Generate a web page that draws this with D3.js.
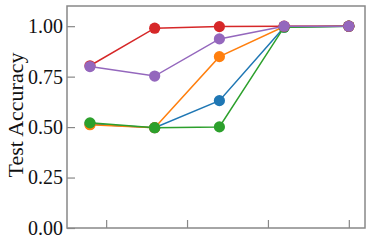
<!DOCTYPE html>
<html>
<head>
<meta charset="utf-8">
<script src="https://cdn.jsdelivr.net/npm/d3@7"></script>
<style>
  body { margin: 0; background: #fff; }
  text { font-family: "Liberation Serif", "DejaVu Serif", serif; }
</style>
</head>
<body>
<div id="chart-area"></div>
<script>
// x positions of the runs, ticks shown without labels
const xValues = [20, 40, 60, 80, 100]
const xTicks = [25, 50, 75, 100]
const yTicks = [0, 0.25, 0.5, 0.75, 1.0]

// one list per series, drawn in this order (purple ends on top)
const blue = [0.515, 0.497, 0.631, 0.995, 1.0]
const orange = [0.512, 0.497, 0.849, 0.998, 1.0]
const green = [0.521, 0.497, 0.501, 0.995, 1.0]
const red = [0.804, 0.990, 0.998, 1.0, 1.0]
const purple = [0.800, 0.753, 0.937, 1.0, 1.0]

const series = [
  { name: "blue", color: "#1f77b4", values: blue },
  { name: "orange", color: "#ff7f0e", values: orange },
  { name: "green", color: "#2ca02c", values: green },
  { name: "red", color: "#d62728", values: red },
  { name: "purple", color: "#9467bd", values: purple }
]

const W = 371, H = 246
const MARGIN = { LEFT: 67, RIGHT: 6, TOP: 6, BOTTOM: 18 }
const WIDTH = W - MARGIN.LEFT - MARGIN.RIGHT
const HEIGHT = H - MARGIN.TOP - MARGIN.BOTTOM

const svg = d3.select("#chart-area").append("svg")
  .attr("width", W)
  .attr("height", H)

const g = svg.append("g")
  .attr("transform", `translate(${MARGIN.LEFT}, ${MARGIN.TOP})`)

const x = d3.scaleLinear()
  .domain([12.9, 105])
  .range([0, WIDTH])

const y = d3.scaleLinear()
  .domain([0, 1.1])
  .range([HEIGHT, 0])

const spine = "#888"

// x axis: inward ticks, no labels
const xAxis = g.append("g")
  .attr("transform", `translate(0, ${HEIGHT})`)
  .call(d3.axisBottom(x).tickValues(xTicks).tickSize(-8).tickFormat(""))
xAxis.select(".domain").remove()
xAxis.selectAll("line").attr("stroke", spine).attr("stroke-width", 1.2)

// y axis: inward ticks
const yAxis = g.append("g")
  .call(d3.axisLeft(y).tickValues(yTicks).tickSize(-8).tickPadding(4)
    .tickFormat(d3.format(".2f")))
yAxis.select(".domain").remove()
yAxis.selectAll("line").attr("stroke", spine).attr("stroke-width", 1.2)
yAxis.selectAll("text")
  .attr("x", -4)
  .attr("font-size", "20px")
  .attr("fill", "#111")

// frame
g.append("rect")
  .attr("width", WIDTH)
  .attr("height", HEIGHT)
  .attr("fill", "none")
  .attr("stroke", spine)
  .attr("stroke-width", 1.5)

// Y label
svg.append("text")
  .attr("x", -(MARGIN.TOP + HEIGHT / 2) + 2)
  .attr("y", 23)
  .attr("font-size", "22px")
  .attr("text-anchor", "middle")
  .attr("fill", "#111")
  .attr("transform", "rotate(-90)")
  .text("Test Accuracy")

const line = d3.line()
  .x((d, i) => x(xValues[i]))
  .y(d => y(d))

series.forEach(s => {
  const sg = g.append("g")
  sg.append("path")
    .datum(s.values)
    .attr("d", line)
    .attr("fill", "none")
    .attr("stroke", s.color)
    .attr("stroke-width", 1.5)
  sg.selectAll("circle")
    .data(s.values)
    .enter().append("circle")
    .attr("cx", (d, i) => x(xValues[i]))
    .attr("cy", d => y(d))
    .attr("r", 5.6)
    .attr("fill", s.color)
})
</script>
</body>
</html>
